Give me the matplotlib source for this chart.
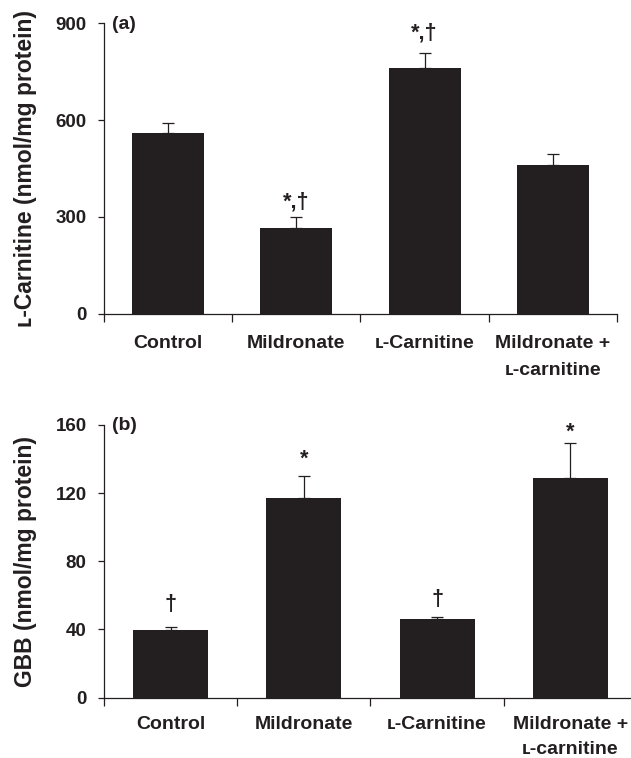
import numpy as np
import matplotlib
matplotlib.use("Agg")
import matplotlib.pyplot as plt
from matplotlib.ticker import FixedLocator, NullFormatter

plt.rcParams['font.family'] = ['Liberation Sans', 'DejaVu Sans']
plt.rcParams['font.weight'] = 'bold'

INK = '#231f20'

groups = ["Control", "Mildronate", "\u029f-Carnitine", "Mildronate +\n\u029f-carnitine"]

# panel (a): L-carnitine content
carn_mean = [559, 267, 761, 462]
carn_err = [34, 33, 48, 32]
carn_marks = ["", "*,\u2020", "*,\u2020", ""]
carn_mark_y = [0, 330, 852, 0]

# panel (b): GBB content
gbb_mean = [39.7, 117, 46.2, 128.9]
gbb_err = [2.0, 13, 1.3, 20.4]
gbb_marks = ["\u2020", "*", "\u2020", "*"]
gbb_mark_y = [51.5, 136.6, 54.4, 152.4]


def draw_panel(ax, means, errs, marks, mark_y, yticks, ylabel, tag, xpad,
               ylab_x, spacing):
    x = np.arange(len(groups))
    ax.bar(x, means, width=0.5625, color=INK, zorder=2)
    ax.errorbar(x, means, yerr=[np.zeros(len(errs)), errs], fmt='none',
                ecolor=INK, elinewidth=0.9, capsize=4.5, capthick=0.9, zorder=3)
    for xi, m, yy in zip(x, marks, mark_y):
        if m:
            ax.text(xi, yy, m, ha='center', va='baseline', fontsize=15.5,
                    fontweight='bold', color=INK)

    ax.set_xlim(-0.5, len(groups) - 0.5)
    ax.set_ylim(yticks[0], yticks[-1])
    ax.set_yticks(yticks)
    ax.set_xticks(x)
    ax.set_xticklabels(groups)
    for lab in ax.get_xticklabels():
        lab.set_linespacing(spacing)
    ax.xaxis.set_minor_locator(FixedLocator(np.arange(-0.5, len(groups), 1.0)))
    ax.xaxis.set_minor_formatter(NullFormatter())
    ax.tick_params(axis='x', which='major', length=0, pad=xpad, labelsize=14,
                   colors=INK)
    ax.tick_params(axis='x', which='minor', length=6, width=0.9, direction='out',
                   color=INK)
    ax.tick_params(axis='y', length=4.5, width=0.9, direction='out', pad=8,
                   labelsize=13.5, colors=INK)

    for side in ['top', 'right']:
        ax.spines[side].set_visible(False)
    for side in ['left', 'bottom']:
        ax.spines[side].set_linewidth(0.9)
        ax.spines[side].set_color(INK)

    ax.set_ylabel(ylabel, fontsize=16.5, fontweight='bold', color=INK)
    ax.yaxis.set_label_coords(ylab_x, 0.5)
    ax.annotate(tag, xy=(0, 1), xycoords='axes fraction', xytext=(6, -0.5),
                textcoords='offset points', ha='left', va='center',
                fontsize=14, fontweight='bold', color=INK)


fig = plt.figure(figsize=(6.31, 7.58), dpi=100)
ax_a = fig.add_axes([0.1648, 0.5861, 0.8130, 0.3829])
ax_b = fig.add_axes([0.1648, 0.0796, 0.8447, 0.3598])

draw_panel(ax_a, carn_mean, carn_err, carn_marks, carn_mark_y,
           [0, 300, 600, 900], "\u029f-Carnitine (nmol/mg protein)", "(a)",
           15.5, (37 - 104) / 513, 1.75)
draw_panel(ax_b, gbb_mean, gbb_err, gbb_marks, gbb_mark_y,
           [0, 40, 80, 120, 160], "GBB (nmol/mg protein)", "(b)",
           13.5, (37 - 104) / 533, 1.55)

fig.savefig("out.png", dpi=100)
